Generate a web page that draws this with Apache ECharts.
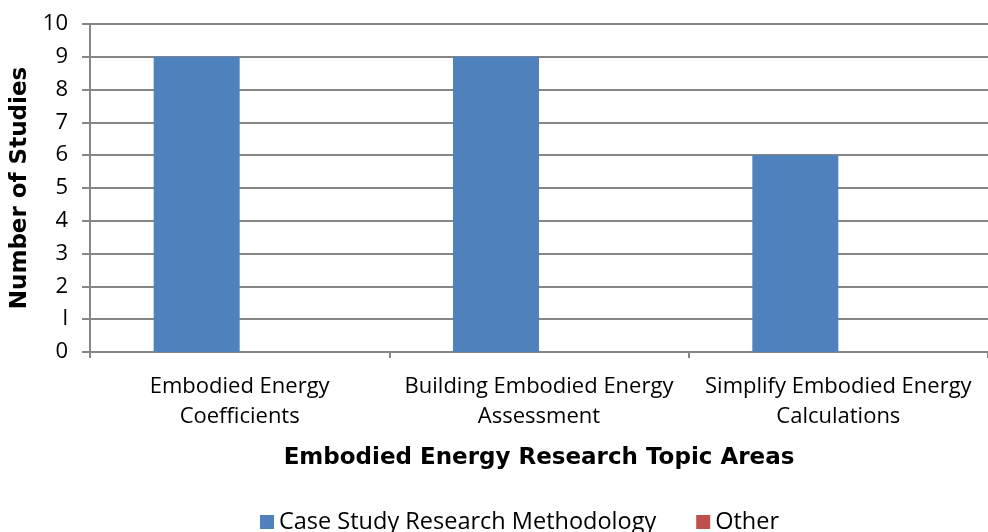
<!DOCTYPE html>
<html>
<head>
<meta charset="utf-8">
<script src="https://cdn.jsdelivr.net/npm/echarts@6/dist/echarts.min.js"></script>
<style>
  html, body { margin: 0; padding: 0; background: #fff; }
  #chart { width: 988px; height: 532px; }
</style>
</head>
<body>
<div id="chart"></div>
<script>
const categories = [
  "Embodied Energy\nCoefficients",
  "Building Embodied Energy\nAssessment",
  "Simplify Embodied Energy\nCalculations"
];
const caseStudy = [9, 9, 6];
const other = [0, 0, 0];
const seriesNames = ["Case Study Research Methodology", "Other"];
const yTicks = ["0", "l", "2", "3", "4", "5", "6", "7", "8", "9", "10"];

const font = "'Open Sans', sans-serif";
const boldFont = "'DejaVu Sans', sans-serif";
const gray = "#868686";

const chart = echarts.init(document.getElementById("chart"));
chart.setOption({
  animation: false,
  textStyle: { fontFamily: font },
  grid: { left: 90, right: 0, top: 24, bottom: 180, containLabel: false, outerBoundsMode: "none" },
  legend: {
    top: 505,
    left: 255,
    itemWidth: 14,
    itemHeight: 14,
    itemGap: 40,
    icon: "rect",
    textStyle: { fontSize: 23.5, color: "#000", fontFamily: font },
    data: seriesNames
  },
  xAxis: {
    type: "category",
    data: categories,
    name: "Embodied Energy Research Topic Areas",
    nameLocation: "middle",
    nameGap: 95,
    nameTextStyle: { fontSize: 23, fontWeight: "bold", color: "#000", fontFamily: boldFont },
    axisLine: { lineStyle: { color: gray, width: 2 } },
    axisTick: { show: true, length: 6, lineStyle: { color: gray, width: 2 } },
    axisLabel: { fontSize: 22, color: "#000", margin: 20, lineHeight: 30, interval: 0, fontFamily: font }
  },
  yAxis: {
    type: "value",
    min: 0,
    max: 10,
    interval: 1,
    name: "Number of Studies",
    nameLocation: "middle",
    nameGap: 47,
    nameTextStyle: { fontSize: 23, fontWeight: "bold", color: "#000", fontFamily: boldFont },
    axisLine: { show: true, lineStyle: { color: gray, width: 2 } },
    axisTick: { show: true, length: 8, lineStyle: { color: gray, width: 2 } },
    axisLabel: {
      fontSize: 22, color: "#000", margin: 22, fontFamily: font,
      formatter: (v) => yTicks[v]
    },
    splitLine: { lineStyle: { color: gray, width: 2 } }
  },
  series: [
    {
      name: seriesNames[0],
      type: "bar",
      data: caseStudy,
      barWidth: 86,
      barGap: "0%",
      itemStyle: { color: "#4F81BD" }
    },
    {
      name: seriesNames[1],
      type: "bar",
      data: other,
      barWidth: 86,
      itemStyle: { color: "#C0504D" }
    }
  ]
});
window.addEventListener("resize", () => chart.resize());
</script>
</body>
</html>
